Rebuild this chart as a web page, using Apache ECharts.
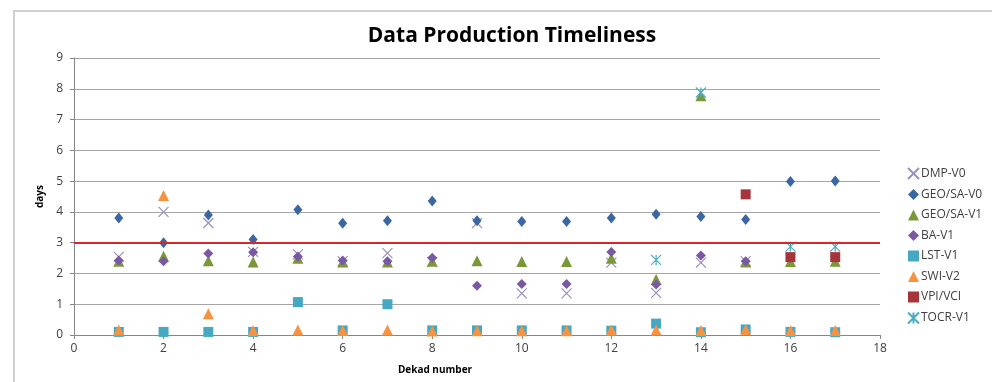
<!DOCTYPE html>
<html>
<head>
<meta charset="utf-8">
<script src="https://cdn.jsdelivr.net/npm/echarts@6/dist/echarts.min.js"></script>
<style>html,body{margin:0;padding:0;background:#fff;}#c{width:992px;height:382px;}</style>
</head>
<body>
<div id="c"></div>
<script>
const dekads = [1,2,3,4,5,6,7,8,9,10,11,12,13,14,15,16,17];
const dmpV0   = [2.54,4.0,3.64,2.7,2.62,2.4,2.66,2.37,3.64,1.35,1.35,2.35,1.37,2.35,2.4,null,null];
const geoSaV0 = [3.80,3.0,3.9,3.1,4.07,3.63,3.71,4.35,3.71,3.69,3.69,3.80,3.92,3.85,3.75,4.99,5.0];
const geoSaV1 = [2.4,2.56,2.41,2.37,2.49,2.37,2.37,2.4,2.41,2.39,2.39,2.49,1.80,7.77,2.37,2.39,2.4];
const baV1    = [2.42,2.40,2.65,2.69,2.55,2.42,2.40,2.51,1.6,1.66,1.66,2.70,1.64,2.58,2.40,null,null];
const lstV1   = [0.1,0.1,0.1,0.1,1.07,0.15,1.0,0.15,0.15,0.15,0.15,0.14,0.37,0.09,0.18,0.1,0.09];
const swiV2   = [0.16,4.53,0.69,0.15,0.16,0.15,0.16,0.13,0.14,0.14,0.14,0.16,0.16,0.15,0.17,0.15,0.15];
const vpiVci  = [null,null,null,null,null,null,null,null,null,null,null,null,null,null,4.57,2.53,2.53];
const tocrV1  = [null,null,null,null,null,null,null,null,null,null,null,null,2.44,7.88,null,2.87,2.87];
const threshold = 3;

function pts(vals){
  const out = [];
  vals.forEach((v,i)=>{ if(v!==null) out.push([dekads[i], v]); });
  return out;
}
const X_PATH = 'path://M0,0L10,10M10,0L0,10';
const STAR_PATH = 'path://M5,0L5,10M0,0L10,10M10,0L0,10';

function sc(name, vals, symbol, size, color, stroke){
  return {
    name: name, type: 'scatter', data: pts(vals), symbol: symbol, symbolSize: size,
    itemStyle: stroke ? {color: 'rgba(0,0,0,0)', borderColor: color, borderWidth: 1.2, opacity: 1} : {color: color, opacity: 1},
    emphasis: {disabled: true}
  };
}

const series = [
  sc('DMP-V0', dmpV0, X_PATH, 10, '#9990bf', true),
  sc('GEO/SA-V0', geoSaV0, 'diamond', [9, 11], '#3a67a3'),
  sc('GEO/SA-V1', geoSaV1, 'triangle', 11, '#7a983a'),
  sc('BA-V1', baV1, 'diamond', 10, '#7b58a4'),
  sc('LST-V1', lstV1, 'rect', 10, '#46a9c4'),
  sc('SWI-V2', swiV2, 'triangle', 11, '#f79240'),
  sc('VPI/VCI', vpiVci, 'rect', 10, '#a5353a'),
  sc('TOCR-V1', tocrV1, STAR_PATH, 10, '#4bacc6', true)
];
series[1].markLine = {
  silent: true, symbol: 'none', animation: false,
  label: {show: false},
  lineStyle: {color: '#d6282b', width: 2, type: 'solid'},
  data: [{yAxis: threshold}]
};

const chart = echarts.init(document.getElementById('c'), null, {renderer: 'canvas'});
chart.setOption({
  animation: false,
  backgroundColor: '#fff',
  title: {
    text: 'Data Production Timeliness', left: 507, textAlign: 'center', top: 21,
    textStyle: {fontFamily: 'Open Sans', fontWeight: 'bold', fontSize: 21, color: '#000'}
  },
  graphic: [
    {type: 'polyline', shape: {points: [[14,382],[14,11],[992,11]]}, style: {stroke: '#d0d0d0', lineWidth: 2, fill: null}, silent: true}
  ],
  grid: {left: 74, right: 112, top: 58, bottom: 47, containLabel: false},
  legend: {
    orient: 'vertical', left: 902, top: 162, itemWidth: 11, itemHeight: 11, itemGap: 8.5,
    textStyle: {fontFamily: 'Open Sans', fontSize: 12, color: '#404040', padding: [0,0,0,-3]},
    data: series.map(s=>s.name)
  },
  xAxis: {
    type: 'value', min: 0, max: 18, interval: 2,
    name: 'Dekad number', nameLocation: 'middle', nameGap: 30,
    nameTextStyle: {fontFamily: 'Open Sans', fontWeight: 'bold', fontSize: 10, color: '#000', padding: [0, 84, 0, 0]},
    axisLine: {show: true, lineStyle: {color: '#868686', width: 1}},
    axisTick: {show: true, length: 4, lineStyle: {color: '#868686'}},
    axisLabel: {fontFamily: 'Open Sans', fontSize: 12, color: '#404040', margin: 8},
    splitLine: {show: false}
  },
  yAxis: {
    type: 'value', min: 0, max: 9, interval: 1,
    name: 'days', nameLocation: 'middle', nameGap: 28, nameRotate: 90,
    nameTextStyle: {fontFamily: 'Open Sans', fontWeight: 'bold', fontSize: 10, color: '#000'},
    axisLine: {show: true, lineStyle: {color: '#868686', width: 1}},
    axisTick: {show: true, length: 4, lineStyle: {color: '#868686'}},
    axisLabel: {fontFamily: 'Open Sans', fontSize: 12, color: '#404040', margin: 11},
    splitLine: {show: true, lineStyle: {color: '#a6a6a6', width: 1}}
  },
  series: series
});
</script>
</body>
</html>
